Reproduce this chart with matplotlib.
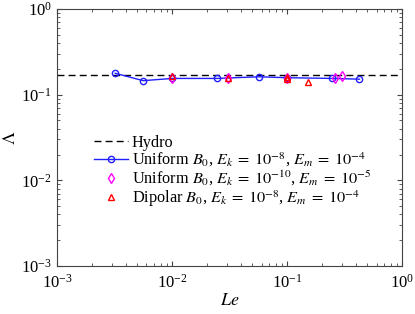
import matplotlib
matplotlib.use('Agg')
import matplotlib.pyplot as plt

plt.rcParams['font.family'] = ['Liberation Serif', 'DejaVu Serif']
plt.rcParams['mathtext.fontset'] = 'stix'

# Data
hydro = 0.17
le_uni8 = [0.00321, 0.00562, 0.0101, 0.0245, 0.0571, 0.1006, 0.248, 0.426]
lam_uni8 = [0.178, 0.146, 0.155, 0.155, 0.162, 0.158, 0.155, 0.152]
le_uni10 = [0.0101, 0.0309, 0.1006, 0.261, 0.303]
lam_uni10 = [0.155, 0.155, 0.158, 0.155, 0.165]
le_dip = [0.0101, 0.0309, 0.1006, 0.1006, 0.153]
lam_dip = [0.167, 0.157, 0.162, 0.152, 0.142]


def make_plot():
    fig = plt.figure(figsize=(4.15, 3.14), dpi=100)
    ax = fig.add_axes([0.137, 0.153, 0.832, 0.818])

    ax.axhline(hydro, color='k', ls='--', lw=1.0, dashes=(5, 3), label='Hydro')
    ax.plot(le_uni8, lam_uni8, '-o', color='#2020ff', lw=1.0, ms=4.5, mfc='none',
            mew=1.0, label=r'Uniform $B_0$, $E_k\;=\;10^{-8}$, $E_m\;=\;10^{-4}$')
    ax.plot(le_uni10, lam_uni10, 'd', color='#ff00ff', ms=5.5, mfc='none',
            mew=1.0, label=r'Uniform $B_0$, $E_k\;=\;10^{-10}$, $E_m\;=\;10^{-5}$')
    ax.plot(le_dip, lam_dip, '^', color='#ff0000', ms=5, mfc='none',
            mew=1.0, label=r'Dipolar $B_0$, $E_k\;=\;10^{-8}$, $E_m\;=\;10^{-4}$')

    ax.set_xscale('log')
    ax.set_yscale('log')
    ax.set_xlim(1e-3, 1)
    ax.set_ylim(1e-3, 1)
    ax.tick_params(which='both', direction='in', top=True, right=True,
                   labelsize=12, color='#444444')
    ax.tick_params(which='major', length=3.5)
    ax.tick_params(which='minor', length=2)
    ax.tick_params(axis='x', pad=6)
    for s in ax.spines.values():
        s.set_color('#444444')
        s.set_linewidth(0.8)

    ax.set_xlabel(r'$Le$', fontsize=13, labelpad=0)
    ax.set_ylabel(r'$\Lambda$', fontsize=13, labelpad=2)

    ax.legend(loc='upper left', bbox_to_anchor=(0.075, 0.555), frameon=False,
              fontsize=11.7, labelspacing=0.0, handlelength=2.1,
              handletextpad=0.2, borderpad=0.2)

    fig.savefig('out.png', dpi=100)


if __name__ == '__main__':
    make_plot()
